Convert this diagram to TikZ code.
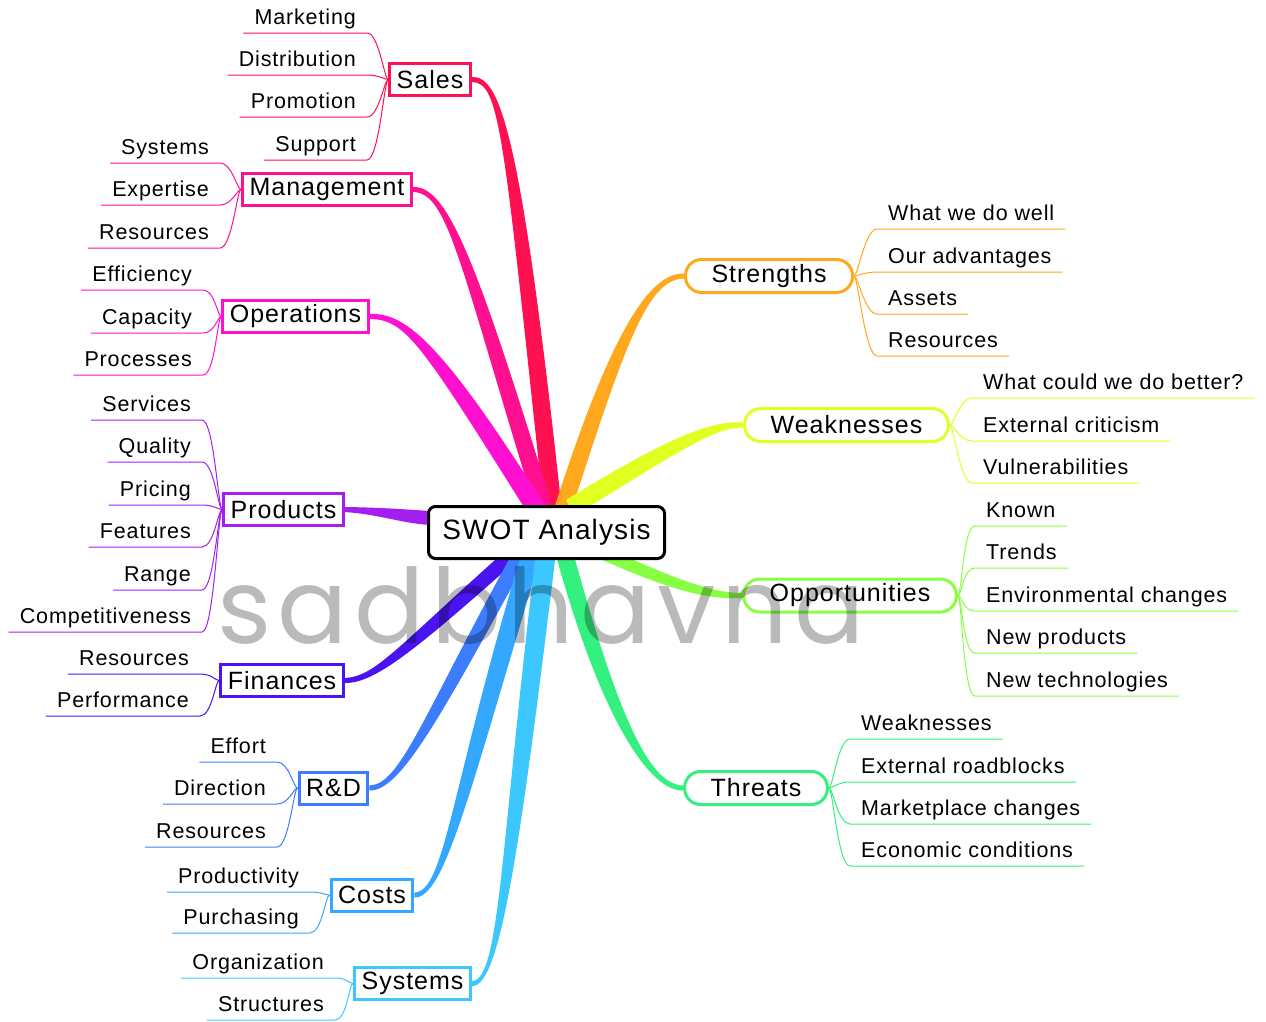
\documentclass[tikz,border=0pt]{standalone}
\usepackage{fontspec}
\setmainfont{Liberation Sans}[LetterSpace=4]
\newfontfamily\markfont{Poppins}[LetterSpace=6]
\usetikzlibrary{calc, backgrounds}

\definecolor{salescol}{HTML}{FF1050}
\definecolor{mgmtcol}{HTML}{FF1090}
\definecolor{opscol}{HTML}{FF10D0}
\definecolor{prodcol}{HTML}{A41EF0}
\definecolor{fincol}{HTML}{4A14F0}
\definecolor{rndcol}{HTML}{3C7CFF}
\definecolor{costcol}{HTML}{34A8FF}
\definecolor{syscol}{HTML}{3CC8FF}
\definecolor{strcol}{HTML}{FFA81E}
\definecolor{weakcol}{HTML}{E2FF22}
\definecolor{oppcol}{HTML}{88FF44}
\definecolor{thrcol}{HTML}{34F080}

% tapered branch: colour, start, control 1, control 2, hub point, half width at hub
\newcommand{\swotbranch}[6]{%
  \fill[#1] ($(#2)+(0,-2.5)$) .. controls ($(#3)+(0,-3.5)$) and ($(#4)+(#6)$)
    .. ($(#5)+(#6)$) -- ($(#5)-(#6)$) .. controls ($(#4)-(#6)$) and ($(#3)+(0,3.5)$)
    .. ($(#2)+(0,2.5)$) -- cycle;}

\tikzset{
  core/.style={
    draw=black,
    line width=3pt,
    rounded corners=7pt,
    fill=white,
    minimum width=236pt,
    minimum height=52pt,
    font=\fontsize{28}{32}\selectfont
  },
  topic/.style={
    draw=#1,
    line width=3pt,
    fill=white,
    inner xsep=7pt,
    minimum height=32pt,
    font=\fontsize{25}{30}\selectfont
  },
  pill/.style={
    topic=#1,
    rounded corners=16pt,
    inner xsep=26pt,
    minimum height=33pt
  },
  leaf/.style={
    inner xsep=11pt,
    inner ysep=3pt,
    text depth=5pt,
    font=\fontsize{21.5}{25}\selectfont
  },
  twig/.style={
    draw=#1,
    line width=1pt
  },
  watermark/.style={
    text=black,
    text opacity=0.27,
    font=\markfont\fontsize{104}{104}\selectfont
  }
}

\begin{document}
\begin{tikzpicture}[x=1pt, y=-1pt]
  \useasboundingbox (0,0) rectangle (1266,1021);

  % centre
  \node[core] (swot) at (546.5,532.5) {SWOT Analysis};

  % topics on the left
  \node[topic=salescol] (sales) at (430,79.5) {Sales};
  \node[topic=mgmtcol] (management) at (327,189.5) {Management};
  \node[topic=opscol] (operations) at (295.5,316.5) {Operations};
  \node[topic=prodcol] (products) at (283.5,509.5) {Products};
  \node[topic=fincol] (finances) at (282,680.5) {Finances};
  \node[topic=rndcol] (rnd) at (333.5,788) {R\&D};
  \node[topic=costcol] (costs) at (372,895) {Costs};
  \node[topic=syscol] (systems) at (412.5,983.5) {Systems};

  % topics on the right
  \node[pill=strcol] (strengths) at (769,276) {Strengths};
  \node[pill=weakcol] (weaknesses) at (846.5,425) {Weaknesses};
  \node[pill=oppcol] (opportunities) at (850,595.5) {Opportunities};
  \node[pill=thrcol] (threats) at (756,788) {Threats};

  % thick branches, under the boxes
  \begin{scope}[on background layer]
    \swotbranch{salescol}{sales.east}{500,79}{512,130}{553,512}{9,0}
    \swotbranch{mgmtcol}{management.east}{448,189}{468,262}{545,512}{9,0}
    \swotbranch{opscol}{operations.east}{405,316}{430,340}{538,512}{11,0}
    \swotbranch{prodcol}{products.east}{380,511}{400,516}{430,518}{0,-7}
    \swotbranch{fincol}{finances.east}{375,680}{405,650}{515,552}{-11,0}
    \swotbranch{rndcol}{rnd.east}{400,788}{430,720}{522,552}{-9,0}
    \swotbranch{costcol}{costs.east}{445,895}{460,790}{532,552}{-10,0}
    \swotbranch{syscol}{systems.east}{500,984}{510,850}{546,552}{-10,0}
    \swotbranch{strcol}{strengths.west}{650,276}{620,330}{562,512}{-9,0}
    \swotbranch{weakcol}{weaknesses.west}{715,424}{680,440}{570,508}{-4,-8}
    \swotbranch{oppcol}{opportunities.west}{712,596}{680,588}{600,552}{2,-6}
    \swotbranch{thrcol}{threats.west}{650,788}{610,720}{564,552}{9,0}
  \end{scope}

  % leaves on the left
  \foreach \lbl/\y [count=\i] in {Marketing/33, Distribution/75, Promotion/117, Support/160}{
    \node[leaf, anchor=south east] (sales\i) at (367,\y) {\lbl};
    \draw[twig=salescol] (sales\i.south west) -- (sales\i.south east)
      .. controls +(12,0) and +(-4,0) .. (sales.west);
  }
  \foreach \lbl/\y [count=\i] in {Systems/163, Expertise/205, Resources/248}{
    \node[leaf, anchor=south east] (mgmt\i) at (220,\y) {\lbl};
    \draw[twig=mgmtcol] (mgmt\i.south west) -- (mgmt\i.south east)
      .. controls +(12,0) and +(-4,0) .. (management.west);
  }
  \foreach \lbl/\y [count=\i] in {Efficiency/290, Capacity/333, Processes/375}{
    \node[leaf, anchor=south east] (ops\i) at (203,\y) {\lbl};
    \draw[twig=opscol] (ops\i.south west) -- (ops\i.south east)
      .. controls +(12,0) and +(-4,0) .. (operations.west);
  }
  \foreach \lbl/\y [count=\i] in {Services/420, Quality/462, Pricing/505, Features/547, Range/590, Competitiveness/632}{
    \node[leaf, anchor=south east] (prod\i) at (202,\y) {\lbl};
    \draw[twig=prodcol] (prod\i.south west) -- (prod\i.south east)
      .. controls +(12,0) and +(-4,0) .. (products.west);
  }
  \foreach \lbl/\y [count=\i] in {Resources/674, Performance/716}{
    \node[leaf, anchor=south east] (fin\i) at (200,\y) {\lbl};
    \draw[twig=fincol] (fin\i.south west) -- (fin\i.south east)
      .. controls +(12,0) and +(-4,0) .. (finances.west);
  }
  \foreach \lbl/\y [count=\i] in {Effort/762, Direction/804, Resources/847}{
    \node[leaf, anchor=south east] (rnd\i) at (277,\y) {\lbl};
    \draw[twig=rndcol] (rnd\i.south west) -- (rnd\i.south east)
      .. controls +(12,0) and +(-4,0) .. (rnd.west);
  }
  \foreach \lbl/\y [count=\i] in {Productivity/892, Purchasing/933}{
    \node[leaf, anchor=south east] (cost\i) at (310,\y) {\lbl};
    \draw[twig=costcol] (cost\i.south west) -- (cost\i.south east)
      .. controls +(12,0) and +(-4,0) .. (costs.west);
  }
  \foreach \lbl/\y [count=\i] in {Organization/978, Structures/1020}{
    \node[leaf, anchor=south east] (sys\i) at (335,\y) {\lbl};
    \draw[twig=syscol] (sys\i.south west) -- (sys\i.south east)
      .. controls +(12,0) and +(-4,0) .. (systems.west);
  }

  % leaves on the right
  \foreach \lbl/\y [count=\i] in {What we do well/229, Our advantages/272, Assets/314, Resources/356}{
    \node[leaf, anchor=south west] (str\i) at (877,\y) {\lbl};
    \draw[twig=strcol] (strengths.east) .. controls +(4,0) and +(-12,0) ..
      (str\i.south west) -- (str\i.south east);
  }
  \foreach \lbl/\y [count=\i] in {What could we do better?/398, External criticism/441, Vulnerabilities/483}{
    \node[leaf, anchor=south west] (weak\i) at (972,\y) {\lbl};
    \draw[twig=weakcol] (weaknesses.east) .. controls +(4,0) and +(-12,0) ..
      (weak\i.south west) -- (weak\i.south east);
  }
  \foreach \lbl/\y [count=\i] in {Known/526, Trends/568, Environmental changes/611, New products/653, New technologies/696}{
    \node[leaf, anchor=south west] (opp\i) at (975,\y) {\lbl};
    \draw[twig=oppcol] (opportunities.east) .. controls +(4,0) and +(-12,0) ..
      (opp\i.south west) -- (opp\i.south east);
  }
  \foreach \lbl/\y [count=\i] in {Weaknesses/739, External roadblocks/782, Marketplace changes/824, Economic conditions/866}{
    \node[leaf, anchor=south west] (thr\i) at (850,\y) {\lbl};
    \draw[twig=thrcol] (threats.east) .. controls +(4,0) and +(-12,0) ..
      (thr\i.south west) -- (thr\i.south east);
  }

  % watermark over everything
  \node[watermark, anchor=base west] (mark) at (214,643) {sadbhavna};
\end{tikzpicture}
\end{document}
